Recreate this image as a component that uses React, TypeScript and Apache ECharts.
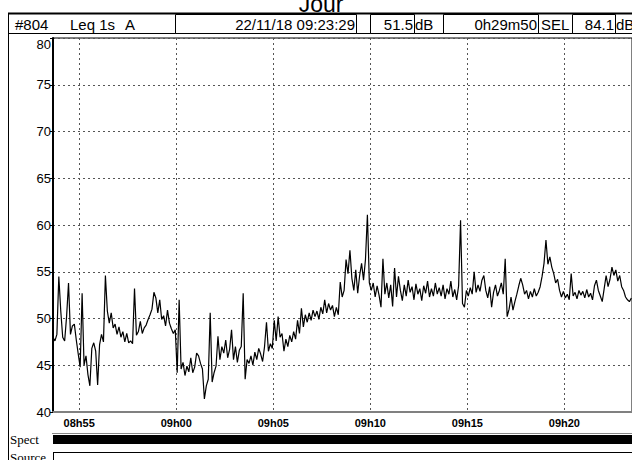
import React, { useEffect, useRef } from 'react';
import * as echarts from 'echarts';

const title = 'Jour';
const channelId = '#804';
const metricLabel = 'Leq 1s';
const weighting = 'A';
const endStamp = '22/11/18 09:23:29';
const leqValue = '51.5';
const leqUnit = 'dB';
const durationText = '0h29m50';
const selLabel = 'SEL';
const selValue = '84.1';
const selUnit = 'dB';
const rowLabels = ['Spect', 'Source'];

const startTime = '08:53:39';
const durationSeconds = 1790;
const stepSeconds = 6;
const xTickLabels = ['08h55', '09h00', '09h05', '09h10', '09h15', '09h20'];
const yMin = 40;
const yMax = 80;
const yStep = 5;

const levels = [
  48.0, 47.6, 48.3, 54.5, 50.8, 48.0, 47.6, 50.2, 53.8, 48.3,
  49.2, 49.4, 47.7, 46.2, 44.8, 52.7, 45.0, 46.0, 44.0, 42.8,
  46.8, 47.4, 46.5, 42.9, 47.2, 48.3, 47.5, 54.6, 50.8, 49.5,
  50.6, 49.0, 49.4, 48.3, 49.1, 48.0, 48.6, 47.5, 48.4, 47.4,
  47.6, 47.3, 53.2, 48.2, 48.6, 49.7, 48.4, 49.0, 49.3, 49.9,
  50.4, 51.0, 52.8, 52.2, 50.6, 52.0, 49.9, 50.3, 49.2, 50.9,
  49.5, 48.9, 48.4, 48.8, 44.2, 52.0, 44.6, 45.3, 43.9, 44.9,
  44.3, 45.8, 44.2, 44.8, 46.3, 46.0, 45.2, 44.6, 41.4, 42.8,
  43.5, 50.6, 43.2, 44.2, 44.9, 48.1, 45.6, 47.0, 46.3, 47.7,
  45.8, 46.7, 48.8, 45.6, 47.0, 45.3, 46.6, 47.0, 52.7, 43.5,
  45.6, 45.2, 46.0, 45.0, 46.4, 45.6, 46.8, 46.2, 45.4, 47.0,
  49.6, 46.5, 47.3, 46.8, 49.8, 47.6, 50.2, 48.0, 48.4, 46.5,
  47.8, 47.0, 48.2, 47.5, 48.6, 47.8, 49.8, 48.4, 51.1, 49.1,
  50.4, 49.6, 50.6, 49.8, 50.9, 50.2, 50.8, 49.9, 51.2, 50.5,
  52.0, 50.6, 51.6, 50.9, 51.4, 50.2, 51.2, 50.4, 53.9, 52.3,
  53.0, 56.3, 54.8, 57.3, 54.3, 53.0, 55.2, 52.7, 54.6, 55.9,
  54.1, 56.3, 61.1, 53.8, 53.0, 53.8, 52.3, 53.5, 52.5, 51.2,
  56.4, 52.6, 53.8, 52.2, 53.6, 51.3, 55.4, 52.3, 54.5, 53.0,
  51.9, 53.6, 52.4, 54.1, 52.8, 53.4, 52.0, 53.7, 52.6, 53.2,
  51.9, 53.5, 52.7, 54.0, 52.3, 53.2, 52.4, 53.8, 52.6, 53.3,
  52.4, 53.6, 52.1, 53.2, 52.6, 54.0, 52.3, 53.1, 52.0, 53.5,
  60.5, 51.6, 51.2, 53.0, 52.4, 53.3, 52.6, 55.0, 52.8, 53.6,
  52.9, 54.1, 54.6, 53.0, 52.2, 53.4, 51.2, 52.8, 53.6, 52.4,
  53.0, 53.8, 52.6, 56.4, 50.2, 51.0, 52.3, 50.9, 51.8, 52.6,
  53.5, 54.3, 53.6, 52.6, 53.0, 52.1, 52.9, 52.3, 53.2, 52.4,
  52.8, 53.4, 54.5, 55.9, 58.4, 55.8, 56.6, 55.5, 54.8, 53.8,
  54.2, 53.0, 52.3, 52.9, 52.2, 52.6, 52.0, 54.8, 52.4, 52.8,
  52.1, 53.0, 52.5, 52.9, 52.2, 53.1, 52.3, 52.7, 52.0, 53.5,
  54.1, 53.0, 52.4, 51.8, 53.2, 54.6, 53.4, 54.2, 55.5, 54.6,
  55.2, 54.0, 54.6, 53.4, 53.0, 52.3, 52.0, 51.8, 52.2,
];

function clockToSeconds(s: string): number {
  const parts = s.split(/[:h]/).map(Number);
  return parts[0] * 3600 + parts[1] * 60 + (parts[2] || 0);
}

const SANS = '"Liberation Sans", Arial, sans-serif';
const SERIF = '"Liberation Serif", "Times New Roman", serif';

export default function App() {
  const ref = useRef<HTMLDivElement>(null);

  useEffect(() => {
    if (!ref.current) return;
    const chart = echarts.init(ref.current, undefined, { renderer: 'svg' });
    const start = clockToSeconds(startTime);
    const end = start + durationSeconds;
    const tickSecs = xTickLabels.map(clockToSeconds);
    const data = levels.map((v, i) => [start + i * stepSeconds, v]);

    const box = (x: number, y: number, w: number, h: number) => ({
      type: 'rect',
      shape: { x, y, width: w, height: h },
      style: { fill: '#fff', stroke: '#000', lineWidth: 1 },
      silent: true,
    });
    const txt = (x: number, y: number, text: string, align: string, size = 15, font = SANS) => ({
      type: 'text',
      x,
      y,
      style: { text, fill: '#000', fontSize: size, fontFamily: font, align, verticalAlign: 'middle' },
      silent: true,
    });
    const hline = (x1: number, x2: number, y: number, color = '#000', w = 1) => ({
      type: 'line',
      shape: { x1, y1: y, x2, y2: y },
      style: { stroke: color, lineWidth: w },
      silent: true,
    });
    const vline = (x: number, y1: number, y2: number, color = '#000', w = 1) => ({
      type: 'line',
      shape: { x1: x, y1, x2: x, y2 },
      style: { stroke: color, lineWidth: w },
      silent: true,
    });

    const hy = 24;
    const graphic: any[] = [
      {
        type: 'text',
        x: 321,
        y: 4,
        style: { text: title, fill: '#000', fontSize: 23, fontFamily: SANS, align: 'center', verticalAlign: 'middle' },
        silent: true,
      },
      hline(8, 632, 13.5, '#000', 2),
      hline(8, 632, 33.5),
      vline(8.5, 13, 460),
      box(175.5, 14.5, 181, 19),
      box(370.5, 14.5, 44, 19),
      box(443.5, 14.5, 95, 19),
      box(572.5, 14.5, 43, 19),
      txt(15, hy, channelId, 'left'),
      txt(70, hy, metricLabel, 'left'),
      txt(125, hy, weighting, 'left'),
      txt(355, hy, endStamp, 'right'),
      txt(413, hy, leqValue, 'right'),
      txt(415, hy, leqUnit, 'left'),
      txt(537, hy, durationText, 'right'),
      txt(541, hy, selLabel, 'left'),
      txt(614, hy, selValue, 'right'),
      txt(616, hy, selUnit, 'left'),
      hline(52, 632, 433.5, '#888', 1),
      {
        type: 'rect',
        shape: { x: 53, y: 435, width: 579, height: 9 },
        style: { fill: '#000' },
        silent: true,
      },
      txt(10, 439, rowLabels[0], 'left', 13, SERIF),
      hline(53, 632, 452.5, '#000', 1),
      vline(53.5, 452, 460),
      txt(10, 457, rowLabels[1], 'left', 13, SERIF),
    ];

    chart.setOption({
      animation: false,
      backgroundColor: '#fff',
      grid: {
        left: 53,
        right: -5,
        top: 38,
        bottom: 48,
        show: true,
        borderColor: '#000',
        borderWidth: 1,
        backgroundColor: 'transparent',
      },
      xAxis: {
        type: 'value',
        min: start,
        max: end,
        axisLine: { show: true, lineStyle: { color: '#808080', width: 2 } },
        axisTick: { show: false, customValues: tickSecs },
        axisLabel: {
          customValues: tickSecs,
          formatter: (v: number) => {
            const idx = tickSecs.indexOf(v);
            return idx >= 0 ? xTickLabels[idx] : '';
          },
          color: '#000',
          fontSize: 11,
          fontWeight: 'bold',
          fontFamily: SANS,
          margin: 5,
        },
        splitLine: { show: true, lineStyle: { color: '#555', type: [2, 3], width: 1 } },
      },
      yAxis: {
        type: 'value',
        min: yMin,
        max: yMax,
        interval: yStep,
        axisLine: { show: true, onZero: false, lineStyle: { color: '#000', width: 2 } },
        axisTick: { show: true, length: 3, lineStyle: { color: '#000' } },
        axisLabel: {
          color: '#000',
          fontSize: 13,
          fontFamily: SANS,
          margin: 2,
          verticalAlignMaxLabel: 'top',
        },
        splitLine: { show: true, lineStyle: { color: '#555', type: [2, 3], width: 1 } },
      },
      series: [
        {
          type: 'line',
          data,
          showSymbol: false,
          symbol: 'none',
          lineStyle: { color: '#000', width: 1.2 },
          clip: true,
        },
      ],
      graphic,
    });

    return () => chart.dispose();
  }, []);

  return (
    <div
      ref={ref}
      style={{ position: 'absolute', left: 0, top: 0, width: 632, height: 460 }}
    />
  );
}
